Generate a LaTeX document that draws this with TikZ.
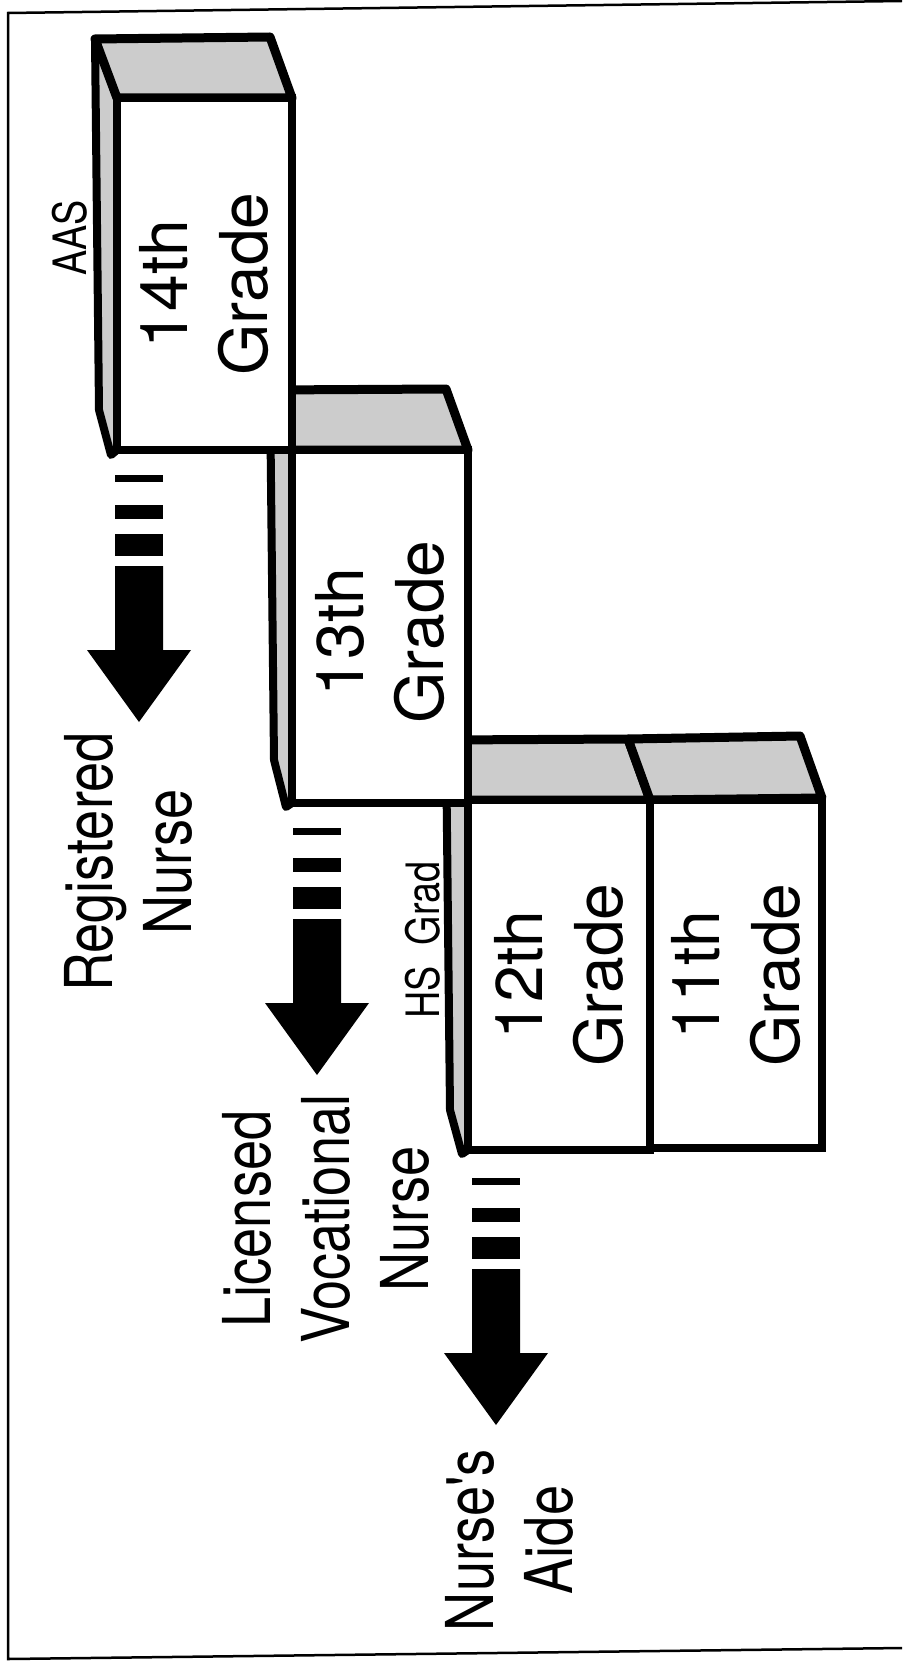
\documentclass[tikz,border=0pt]{standalone}
\usepackage{fontspec}
\setmainfont{TeX Gyre Heros}
\newfontfamily\narrowfont[FakeStretch=0.82]{TeX Gyre Heros}
\tikzset{
  frameline/.style={line width=2.5pt, draw=black},
  frontface/.style={fill=white, draw=black, line width=7.5pt, line join=miter},
  topface/.style={fill=gray!40, draw=black, line width=9pt, line join=round},
  sideface/.style={fill=gray!40, draw=black, line width=8pt, line join=round},
  barpiece/.style={fill=black, draw=none},
  gradelbl/.style={rotate=90, align=center, inner sep=0pt, font=\fontsize{66}{80}\selectfont},
  joblbl/.style={rotate=90, align=center, inner sep=0pt, font=\narrowfont\fontsize{66}{79}\selectfont},
  smalllbl/.style={rotate=90, inner sep=0pt, font=\narrowfont\fontsize{46}{52}\selectfont},
}
\begin{document}
\begin{tikzpicture}[x=1pt, y=-1pt]
\useasboundingbox (0,0) rectangle (902,1661);
% frame
\draw[frameline] (902,1) -- (8,13) -- (8,1659) -- (902,1648);

% ---- 12th / 11th boxes (back) ----
\draw[sideface] (446,740) -- (450,1110) -- (462,1154) -- (468,1150) -- (468,800) -- cycle;
\draw[topface] (446,740) -- (628,739) -- (650,800) -- (468,800) -- cycle;
\draw[topface] (628,739) -- (800,736) -- (822,798) -- (650,800) -- cycle;
\draw[frontface] (468,800) rectangle (650,1150);
\draw[frontface] (650,800) rectangle (822,1148);

% ---- 13th box ----
\draw[sideface] (270,390) -- (274,760) -- (286,807) -- (292,803) -- (292,450) -- cycle;
\draw[topface] (270,390) -- (446,389) -- (468,450) -- (292,450) -- cycle;
\draw[frontface] (292,450) rectangle (468,803);

% ---- 14th box ----
\draw[sideface] (95,39) -- (99,410) -- (111,455) -- (117,450) -- (117,98) -- cycle;
\draw[topface] (95,39) -- (270,37) -- (292,98) -- (117,98) -- cycle;
\draw[frontface] (117,98) rectangle (292,450);

% grade labels
\node[gradelbl] (g14) at (204,284) {14th\\Grade};
\node[gradelbl] (g13) at (380,632) {13th\\Grade};
\node[gradelbl] (g12) at (559,975) {12th\\Grade};
\node[gradelbl] (g11) at (736,975) {11th\\Grade};
\node[smalllbl] (aas) at (70,238) {AAS};
\node[smalllbl] (hsg) at (423,940) {HS~~Grad};

% ---- arrows ----
\begin{scope}[shift={(139,450)}]
  \fill[barpiece] (-24,25) rectangle (24,32);
  \fill[barpiece] (-24,55) rectangle (24,69);
  \fill[barpiece] (-24,84) rectangle (24,106);
  \fill[barpiece] (-24,116) -- (24,116) -- (24,200) -- (52,200) -- (0,272) -- (-52,200) -- (-24,200) -- cycle;
\end{scope}
\begin{scope}[shift={(317,803)}]
  \fill[barpiece] (-24,25) rectangle (24,32);
  \fill[barpiece] (-24,55) rectangle (24,69);
  \fill[barpiece] (-24,84) rectangle (24,106);
  \fill[barpiece] (-24,116) -- (24,116) -- (24,200) -- (52,200) -- (0,272) -- (-52,200) -- (-24,200) -- cycle;
\end{scope}
\begin{scope}[shift={(496,1153)}]
  \fill[barpiece] (-24,25) rectangle (24,32);
  \fill[barpiece] (-24,55) rectangle (24,69);
  \fill[barpiece] (-24,84) rectangle (24,106);
  \fill[barpiece] (-24,116) -- (24,116) -- (24,200) -- (52,200) -- (0,272) -- (-52,200) -- (-24,200) -- cycle;
\end{scope}

% job labels
\node[joblbl] (rn) at (128,862) {Registered\\Nurse};
\node[joblbl] (lvn) at (326,1219) {Licensed\\Vocational\\Nurse};
\node[joblbl] (na) at (509,1540) {Nurse's\\Aide};
\end{tikzpicture}
\end{document}
